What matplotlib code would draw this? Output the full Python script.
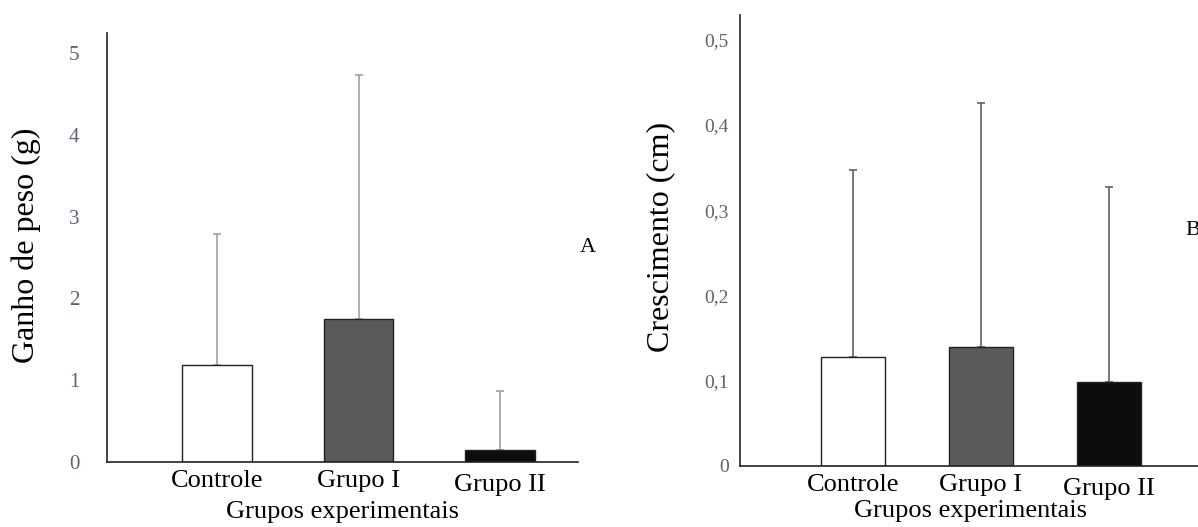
"""Weight gain and growth by experimental group (panels A and B)."""

import matplotlib
matplotlib.use("Agg")
import matplotlib.pyplot as plt
import matplotlib.transforms as mtransforms

plt.rcParams["font.family"] = ["Liberation Serif", "DejaVu Serif"]

groups = ["Controle", "Grupo I", "Grupo II"]
bar_colors = ["#ffffff", "#5a5a5a", "#0d0d0d"]

# panel A: weight gain (g), mean and upper deviation
ganho_mean = [1.18, 1.75, 0.15]
ganho_sd = [1.61, 2.98, 0.72]
ganho_ticks = [0, 1, 2, 3, 4, 5]
ganho_ticklabels = ["0", "1", "2", "3", "4", "5"]

# panel B: growth (cm), mean and upper deviation
cresc_mean = [0.128, 0.139, 0.099]
cresc_sd = [0.219, 0.287, 0.228]
cresc_ticks = [0, 0.1, 0.2, 0.3, 0.4, 0.5]
cresc_ticklabels = ["0", "0,1", "0,2", "0,3", "0,4", "0,5"]

TICK_COLOR = "#5b6270"


def _panel(fig, rect, means, sds, ticks, ticklabels, ylabel, xlim, ylim,
           width, err_color, tick_pad, tick_size, label_xy, xlabel_pad):
    ax = fig.add_axes(rect)
    x = [1, 2, 3]
    ax.errorbar(x, means, yerr=[[0, 0, 0], sds], fmt="none", ecolor=err_color,
                elinewidth=1.1, capsize=3, capthick=1.1, zorder=1)
    ax.bar(x, means, width=width, color=bar_colors, edgecolor="#222222",
           linewidth=1.0, zorder=2)
    ax.set_xlim(*xlim)
    ax.set_ylim(*ylim)

    ax.set_yticks(ticks)
    ax.set_yticklabels(ticklabels, color=TICK_COLOR, fontsize=tick_size)
    ax.set_xticks(x)
    ax.set_xticklabels(groups, fontsize=19)
    ax.tick_params(axis="y", length=0, pad=tick_pad)
    ax.tick_params(axis="x", length=0, pad=6)

    # last group label sits a little lower than the others
    lbl = ax.get_xticklabels()[2]
    lbl.set_transform(lbl.get_transform()
                      + mtransforms.ScaledTranslation(0, -3 / 72, fig.dpi_scale_trans))

    for side in ("top", "right"):
        ax.spines[side].set_visible(False)
    for side in ("left", "bottom"):
        ax.spines[side].set_color("#222222")
        ax.spines[side].set_linewidth(1.2)

    ax.set_ylabel(ylabel, fontsize=23)
    ax.yaxis.set_label_coords(*label_xy)
    ax.set_xlabel("Grupos experimentais", fontsize=19, labelpad=xlabel_pad)
    return ax


fig = plt.figure(figsize=(11.98, 5.27), dpi=100)

_panel(fig, [107 / 1198, 65 / 527, 471 / 1198, 429 / 527],
       ganho_mean, ganho_sd, ganho_ticks, ganho_ticklabels,
       "Ganho de peso (g)", (0.223, 3.55), (0, 5.245), 0.49,
       "#999999", 20, 15, (-0.14, 0.506), 3)

_panel(fig, [740 / 1198, 61 / 527, 460 / 1198, 451 / 527],
       cresc_mean, cresc_sd, cresc_ticks, cresc_ticklabels,
       "Crescimento (cm)", (0.12, 3.71), (0, 0.529), 0.5,
       "#555555", 8, 14, (-0.141, 0.508), 0)

fig.text(588 / 1198, 1 - 247 / 527, "A", fontsize=16, ha="center", va="center")
fig.text(1185 / 1198, 1 - 230 / 527, "B", fontsize=16, ha="left", va="center")

fig.savefig("out.png", dpi=100)
